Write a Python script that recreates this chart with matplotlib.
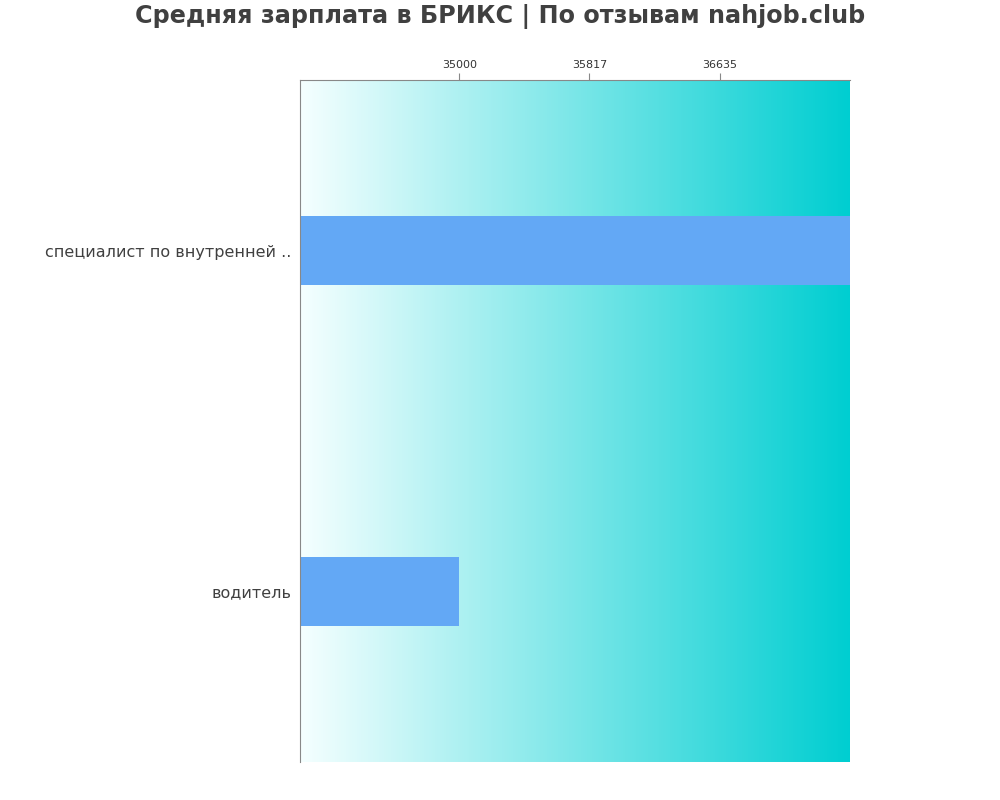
import numpy as np
from matplotlib import pyplot as plt
from matplotlib.colors import LinearSegmentedColormap

# data
professions = ["специалист по внутренней ..", "водитель"]
salaries = [37452, 35000]
tick_values = [35000, 35817, 36635]
x_min = 34000

fig = plt.figure(figsize=(10, 8), dpi=100)
ax = fig.add_axes([0.3, 0.0475, 0.55, 0.8525])

# gradient background, white -> turquoise
cmap = LinearSegmentedColormap.from_list("bg", ["#f5ffff", "#00ced1"])
grad = np.linspace(0, 1, 256)[None, :]
ax.imshow(grad, cmap=cmap, aspect="auto", extent=[x_min, max(salaries), 1.5, -0.5],
          zorder=0, interpolation="bilinear")

y = np.arange(len(professions))
ax.barh(y, salaries, height=0.2, color="#63a8f5", zorder=2)

ax.set_xlim(x_min, max(salaries))
ax.set_ylim(1.5, -0.5)
ax.set_yticks(y)
ax.set_yticklabels(professions, fontsize=11.5, color="#404040", va="center_baseline")
ax.set_xticks(tick_values)
ax.set_xticklabels([str(v) for v in tick_values], fontsize=8, color="#333333")
ax.xaxis.tick_top()
ax.tick_params(axis="y", length=0, pad=6)
ax.tick_params(axis="x", color="#888888", length=5, pad=2)

for s in ["right", "bottom"]:
    ax.spines[s].set_visible(False)
for s in ["left", "top"]:
    ax.spines[s].set_color("#888888")

fig.suptitle("Средняя зарплата в БРИКС | По отзывам nahjob.club", fontsize=17.2,
             fontweight="bold", color="#404040", y=0.995)

fig.savefig("out.png")
